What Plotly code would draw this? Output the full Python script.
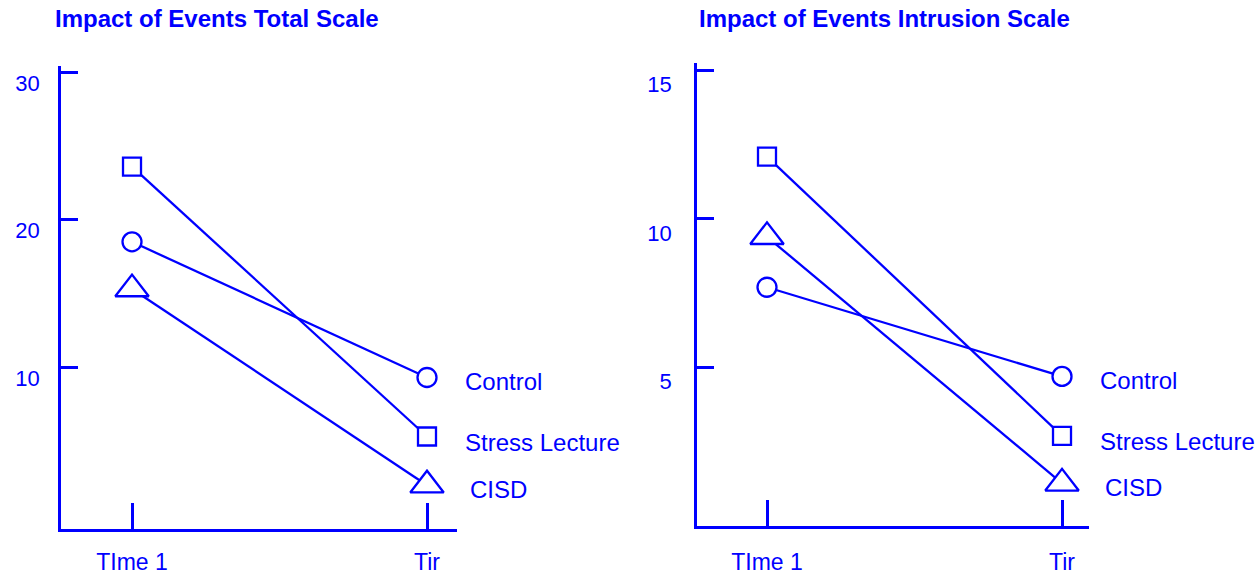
import plotly.graph_objects as go

# ---- data ----
time_labels = ["TIme 1", "Tir"]
time_pos = [1, 2]
groups = ["Control", "Stress Lecture", "CISD"]
symbols = ["circle", "square", "triangle-up"]

total_control = [18.5, 9.3]
total_stress = [23.6, 5.3]
total_cisd = [15.3, 2.0]

intr_control = [7.7, 4.7]
intr_stress = [12.1, 2.7]
intr_cisd = [9.4, 1.1]

total_ticks = [10, 20, 30]
intr_ticks = [5, 10, 15]

BLUE = "#0000ff"
FONT = "Liberation Sans, Arial, sans-serif"
W, H = 1256, 579

fig = go.Figure()

sizes = {"circle": 19, "square": 18, "triangle-up": 29}

def add_panel(series, xa, ya):
    for name, sym, vals in zip(groups, symbols, series):
        fig.add_trace(go.Scatter(
            x=time_pos, y=vals, mode="lines+markers", name=name,
            xaxis=xa, yaxis=ya, showlegend=False, hoverinfo="skip",
            line=dict(color=BLUE, width=2.3),
            marker=dict(symbol=sym, size=sizes[sym], color="white",
                        line=dict(color=BLUE, width=2.3)),
            cliponaxis=False,
        ))

add_panel([total_control, total_stress, total_cisd], "x", "y")
add_panel([intr_control, intr_stress, intr_cisd], "x2", "y2")

def px_x(p):
    return p / W

def px_y(p):
    return (H - p) / H

axis_common = dict(
    showline=True, linecolor=BLUE, linewidth=2.5, showgrid=False, zeroline=False,
    ticks="inside", tickcolor=BLUE, tickwidth=2.5, automargin=False,
    tickfont=dict(family=FONT, color=BLUE, size=23),
)

fig.update_layout(
    width=W, height=H,
    margin=dict(l=0, r=0, t=0, b=0, pad=0, autoexpand=False),
    paper_bgcolor="white", plot_bgcolor="white",
    xaxis=dict(axis_common, domain=[px_x(61), px_x(457)], range=[0.7593, 2.1017],
               tickvals=time_pos, ticktext=time_labels, ticklen=26,
               ticklabelstandoff=11, anchor="y"),
    yaxis=dict(axis_common, domain=[px_y(529), px_y(66)], range=[-0.97, 30.42],
               tickvals=total_ticks, ticklen=17, ticklabelstandoff=14,
               ticklabelshift=11, tickfont=dict(family=FONT, color=BLUE, size=22),
               anchor="x"),
    xaxis2=dict(axis_common, domain=[px_x(697), px_x(1089)], range=[0.7627, 2.0915],
                tickvals=time_pos, ticktext=time_labels, ticklen=26,
                ticklabelstandoff=14, anchor="y2"),
    yaxis2=dict(axis_common, domain=[px_y(526), px_y(63)], range=[-0.337, 15.25],
                tickvals=intr_ticks, ticklen=17, ticklabelstandoff=18,
                ticklabelshift=14, tickfont=dict(family=FONT, color=BLUE, size=22),
                anchor="x2"),
)

titles = [("Impact of Events Total Scale", 53), ("Impact of Events Intrusion Scale", 697)]
for text, xp in titles:
    fig.add_annotation(text=text, xref="paper", yref="paper", x=px_x(xp), y=px_y(18),
                       xanchor="left", yanchor="middle", showarrow=False,
                       font=dict(family=FONT, size=24, color=BLUE, weight="bold"))

label_shift = {"Control": (36, -4), "Stress Lecture": (36, -6), "CISD": (41, -4)}
for xa, ya, series in [("x", "y", [total_control, total_stress, total_cisd]),
                       ("x2", "y2", [intr_control, intr_stress, intr_cisd])]:
    for name, vals in zip(groups, series):
        dx, dy = label_shift[name]
        fig.add_annotation(text=name, xref=xa, yref=ya, x=time_pos[1], y=vals[1],
                           xanchor="left", yanchor="middle", showarrow=False,
                           xshift=dx, yshift=dy,
                           font=dict(family=FONT, size=24, color=BLUE))

fig.write_html(
    "out.html",
    config={"displayModeBar": False},
    post_script="document.body.style.margin='0';document.body.style.overflow='hidden';",
)
